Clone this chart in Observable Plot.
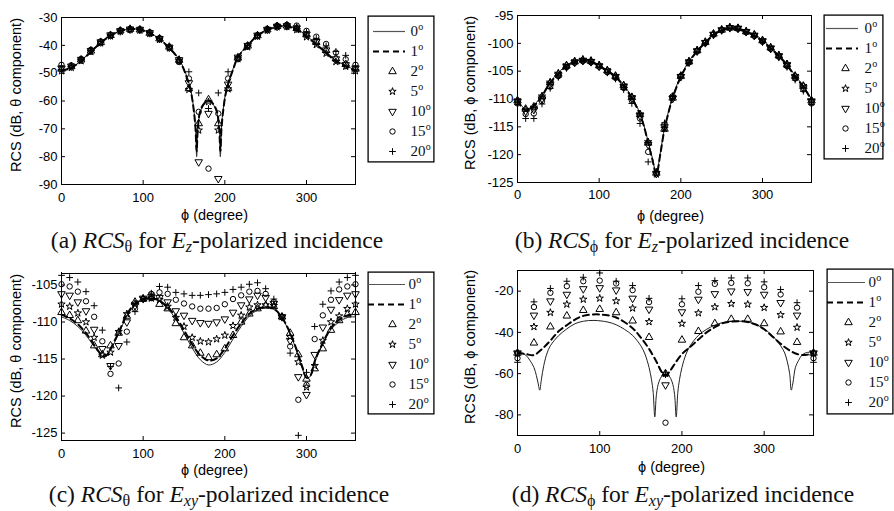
<!DOCTYPE html>
<html><head><meta charset="utf-8">
<script src="https://cdn.jsdelivr.net/npm/d3@7"></script>
<script src="https://cdn.jsdelivr.net/npm/@observablehq/plot@0.6"></script>
<style>
body{margin:0;background:#fff;}
#root{position:relative;width:894px;height:511px;overflow:hidden;background:#fff;}
.cap{position:absolute;font-family:"Liberation Serif","Times New Roman",serif;font-size:23.5px;line-height:24px;white-space:nowrap;color:#111;transform:translateX(-50%);}
.cap sub{font-size:16px;vertical-align:-4px;line-height:0;color:#111;}
</style></head><body><div id="root"></div>
<script>
// ---------- shared ----------
const xTicks = [0, 100, 200, 300];
const legendNums = ["0", "1", "2", "5", "10", "15", "20"];
const xLabel = "ϕ (degree)";

// ---------- panel (a) ----------
const aLinePhi = [0,12,24,36,48,60,72,84,96,108,120,132,144,150,155,159,162,164,165.5,167,170,175,180,185,190,193,194.5,196,198,201,205,210,216,228,240,252,264,276,288,300,312,324,336,348,360];
const a0 = [-48.9,-48.0,-45.5,-42.2,-39.0,-36.4,-34.8,-34.1,-34.3,-35.5,-37.7,-40.7,-45.0,-48.5,-52.5,-57,-63,-69,-80,-70,-64,-61,-60,-61,-64,-70,-80,-69,-63,-57,-52.5,-48.5,-44.1,-39.9,-36.3,-34.3,-33.2,-33.0,-34.1,-36.6,-39.4,-42.4,-45.4,-47.3,-48.9];
const a1 = [-49.1,-48.1,-45.6,-42.3,-39.1,-36.5,-34.9,-34.2,-34.4,-35.6,-37.8,-40.9,-45.2,-48.8,-53,-57.5,-63.5,-69.5,-78,-69.5,-63.5,-60.8,-59.8,-60.8,-63.5,-69.5,-78,-69.5,-63.5,-57.5,-53,-48.8,-44.3,-40.1,-36.5,-34.5,-33.4,-33.2,-34.3,-36.8,-39.7,-42.7,-45.7,-47.5,-49.1];
const aMarkPhi = [0,12,24,36,48,60,72,84,96,108,120,132,144,156,168,180,192,204,216,228,240,252,264,276,288,300,312,324,336,348,360];
const a2 = [-48.5,-47.6,-45.2,-42.0,-38.9,-36.4,-34.8,-34.2,-34.4,-35.6,-37.6,-40.6,-45.3,-55.5,-68.1,-59.5,-68.1,-55.5,-44.5,-40.2,-36.5,-34.4,-33.2,-33.0,-33.9,-36.2,-38.9,-41.8,-44.7,-46.8,-48.5];
const a5 = [-49.2,-48.0,-45.6,-42.3,-39.2,-36.7,-35.0,-34.4,-34.6,-35.8,-37.9,-41.0,-45.6,-55.9,-70.5,-60.3,-70.5,-55.7,-44.9,-40.6,-36.8,-34.6,-33.4,-33.3,-34.4,-37.0,-39.8,-42.9,-45.9,-47.6,-49.2];
const a10 = [-48.2,-47.5,-45.1,-41.9,-38.8,-36.3,-34.8,-34.2,-34.3,-35.5,-37.6,-40.7,-45.2,-53.5,-81.9,-64.5,-87.9,-54.0,-44.3,-40.1,-36.4,-34.3,-33.2,-33.0,-33.8,-36.0,-38.7,-41.7,-44.9,-47.0,-48.2];
const a15 = [-47.0,-47.2,-44.9,-41.6,-38.6,-36.2,-34.6,-34.1,-34.2,-35.3,-37.4,-40.6,-46.0,-51.9,-63.9,-84.3,-64.5,-51.9,-45.0,-40.0,-36.3,-34.1,-32.9,-32.6,-32.9,-34.8,-36.9,-39.5,-42.6,-45.0,-47.0];
const a20 = [-47.5,-47.3,-45.0,-41.8,-38.7,-36.3,-34.7,-34.1,-34.3,-35.4,-37.5,-40.5,-45.0,-49.5,-57.1,-62.7,-57.1,-49.5,-44.0,-40.0,-36.2,-34.0,-32.8,-32.7,-33.3,-35.2,-37.5,-40.2,-42.2,-43.6,-47.5];
const aYTicks = [-30,-40,-50,-60,-70,-80,-90];

// ---------- panel (b) ----------
const bLinePhi = [0,5,10,15,20,25,30,40,50,60,70,80,90,100,110,120,130,140,150,155,160,165,170,175,180,185,190,200,210,220,230,240,250,260,270,280,290,300,310,320,330,340,350,360];
const b0 = [-110,-111.2,-111.8,-111.7,-111.1,-110.3,-109.3,-106.9,-105.3,-103.9,-103.2,-102.9,-103.1,-103.9,-104.8,-105.8,-107.5,-109.6,-112.6,-114.8,-117.7,-120.5,-123.3,-119.5,-115.2,-112.2,-109.6,-105.8,-103.2,-101.2,-99.7,-98.3,-97.5,-97.1,-97.2,-97.8,-98.4,-99.4,-100.7,-102.1,-103.7,-105.8,-107.6,-110];
const b1 = [-110.2,-111.4,-112.0,-111.9,-111.3,-110.5,-109.5,-107.1,-105.5,-104.1,-103.4,-103.1,-103.3,-104.1,-105.0,-106.0,-107.7,-109.8,-112.8,-115.0,-117.9,-120.8,-123.5,-119.8,-115.4,-112.4,-109.8,-106.0,-103.4,-101.4,-99.9,-98.5,-97.7,-97.3,-97.4,-98.0,-98.6,-99.6,-100.9,-102.3,-103.9,-106.0,-107.8,-110.2];
const bMarkPhi = [0,10,20,30,40,50,60,70,80,90,100,110,120,130,140,150,160,170,180,190,200,210,220,230,240,250,260,270,280,290,300,310,320,330,340,350,360];
const b2 = [-110.3,-111.8,-111.4,-109.6,-107.1,-105.5,-104.0,-103.3,-103.0,-103.2,-104.0,-104.9,-105.9,-107.6,-109.7,-112.8,-117.9,-123.3,-115.4,-109.8,-105.9,-103.3,-101.3,-99.8,-98.3,-97.6,-97.2,-97.3,-97.9,-98.5,-99.5,-100.8,-102.2,-103.8,-105.9,-107.7,-110.3];
const b5 = [-110.2,-111.9,-111.5,-109.5,-107.0,-105.4,-103.9,-103.2,-102.9,-103.1,-103.9,-104.8,-105.8,-107.5,-109.6,-112.7,-117.7,-123.5,-115.3,-109.7,-105.8,-103.2,-101.2,-99.7,-98.3,-97.5,-97.1,-97.2,-97.8,-98.4,-99.4,-100.7,-102.1,-103.7,-105.8,-107.6,-110.2];
const b10 = [-110.5,-112.2,-111.9,-110.0,-107.4,-105.7,-104.2,-103.4,-103.1,-103.3,-104.1,-105.0,-106.0,-107.8,-109.9,-113.0,-118.2,-123.4,-115.0,-109.9,-106.0,-103.4,-101.4,-99.9,-98.4,-97.6,-97.2,-97.3,-97.9,-98.6,-99.6,-100.9,-102.3,-103.9,-106.1,-108.0,-110.5];
const b15 = [-110.8,-112.7,-112.6,-110.4,-107.8,-105.9,-104.3,-103.5,-103.2,-103.4,-104.2,-105.2,-106.2,-108.0,-110.3,-113.5,-119.5,-123.3,-114.6,-109.5,-105.9,-103.4,-101.4,-99.9,-98.4,-97.6,-97.2,-97.4,-98.0,-98.7,-99.7,-101.0,-102.4,-104.1,-106.3,-108.3,-110.8];
const b20 = [-111.0,-113.5,-113.5,-110.9,-108.1,-106.1,-104.5,-103.6,-103.3,-103.5,-104.3,-105.3,-106.4,-108.3,-110.8,-114.4,-121.3,-123.0,-114.3,-109.4,-105.9,-103.4,-101.5,-100.0,-98.5,-97.7,-97.3,-97.5,-98.1,-98.8,-99.8,-101.1,-102.6,-104.3,-106.6,-108.6,-111.0];
const bYTicks = [-95,-100,-105,-110,-115,-120,-125];

// ---------- panel (c) ----------
const cLinePhi = [0,10,20,30,40,45,50,55,60,70,80,90,100,110,120,130,140,150,160,170,180,190,200,210,220,230,240,250,260,270,280,290,295,300,305,310,320,330,340,350,360];
const c0 = [-109.3,-109.8,-110.6,-111.8,-113.3,-114.0,-114.6,-114.6,-113.8,-111.6,-109.2,-107.7,-107.0,-106.8,-107.2,-108.2,-109.6,-111.5,-113.5,-115.1,-115.8,-115.4,-114.1,-112.3,-110.6,-109.2,-108.4,-108.1,-108.3,-109.5,-111.6,-114.6,-116.3,-117.6,-117.3,-115.5,-113.0,-111.0,-110.0,-109.4,-109.3];
const c1 = [-109.0,-109.5,-110.3,-111.5,-113.1,-113.9,-114.5,-114.5,-113.6,-111.4,-109.0,-107.5,-106.9,-106.8,-107.1,-108.0,-109.3,-111.1,-113.0,-114.5,-115.2,-114.9,-113.6,-111.8,-110.2,-108.9,-108.2,-108.0,-108.2,-109.4,-111.5,-114.4,-116.1,-117.5,-117.2,-115.3,-112.8,-110.8,-109.7,-109.1,-109.0];
const cMarkPhi = [0,10,20,30,40,50,60,70,80,90,100,110,120,130,140,150,160,170,180,190,200,210,220,230,240,250,260,270,280,290,300,310,320,330,340,350,360];
const c2 = [-108.7,-109.1,-109.8,-111.2,-113.2,-114.4,-113.2,-111.5,-109.2,-107.3,-106.9,-106.7,-107.6,-108.2,-110.2,-112.1,-113.2,-114.2,-114.8,-114.4,-113.6,-111.8,-110.0,-108.9,-108.2,-107.8,-107.9,-109.3,-111.5,-114.4,-117.7,-116.3,-113.6,-111.1,-109.8,-109.0,-108.7];
const c5 = [-107.6,-107.9,-108.8,-110.0,-112.1,-114.5,-114.1,-111.3,-108.9,-107.5,-106.8,-106.8,-107.0,-107.9,-109.4,-110.6,-112.1,-112.6,-112.7,-112.3,-111.8,-110.5,-109.1,-108.0,-107.7,-107.7,-107.8,-109.3,-112.0,-115.4,-118.8,-115.9,-112.5,-110.0,-109.2,-108.2,-107.6];
const c10 = [-106.2,-106.4,-107.3,-108.5,-111.0,-113.6,-115.9,-113.2,-110.0,-107.8,-106.8,-106.6,-106.7,-107.3,-108.5,-109.1,-109.8,-110.1,-110.2,-110.0,-109.6,-108.7,-107.7,-106.9,-106.4,-106.7,-107.5,-109.3,-112.5,-117.4,-119.8,-114.4,-110.7,-108.3,-107.0,-106.4,-106.2];
const c15 = [-104.9,-105.2,-105.9,-107.2,-109.3,-112.6,-117.0,-115.6,-111.3,-108.2,-106.9,-106.2,-106.0,-106.2,-107.0,-107.5,-107.9,-108.2,-108.2,-108.1,-107.6,-106.9,-106.4,-105.9,-105.8,-106.2,-107.3,-109.3,-113.3,-120.5,-118.5,-112.3,-109.1,-107.0,-105.6,-105.2,-104.9];
const c20 = [-103.7,-104.0,-104.6,-105.9,-107.8,-111.1,-116.0,-118.9,-112.7,-108.6,-107.0,-106.1,-105.2,-105.3,-106.0,-106.2,-106.4,-106.4,-106.3,-106.2,-106.0,-105.6,-105.3,-104.9,-104.7,-105.5,-106.9,-109.3,-114.2,-125.3,-116.8,-110.6,-107.6,-105.8,-104.6,-104.0,-103.7];
const cYTicks = [-105,-110,-115,-120,-125];

// ---------- panel (d) ----------
const d0Phi = [0,5,10,15,20,23,25,27,29,32,36,40,50,60,70,80,93,110,120,130,140,150,155,160,163,165,167,169,172,176,180,184,188,191,193,195,197,200,205,210,220,230,240,250,265,280,290,300,310,320,325,328,331,333,335,338,342,346,350,355,360];
const d0 = [-49.5,-50,-51,-53.5,-57,-61,-64.5,-68,-63,-56,-50,-46.5,-41.6,-38.3,-35.8,-34.6,-34.2,-35,-36.3,-38.5,-41.5,-46.5,-50.5,-57,-63,-69,-81,-70,-64,-61,-60,-61,-64,-70,-81,-69,-63,-57,-50.5,-46.5,-41.5,-38.5,-36.5,-35.2,-34.5,-35,-36.2,-38.3,-41.6,-46.5,-50,-54,-60,-68,-64.5,-57,-53.5,-51,-50,-49.6,-49.5];
const d1Phi = [0,10,20,30,40,50,60,70,80,100,120,140,150,160,170,175,180,185,190,200,210,220,230,240,250,260,270,280,290,300,310,320,330,340,350,360];
const d1 = [-50,-50.5,-51,-48,-44,-39.5,-36.5,-33.8,-32,-31.3,-32.8,-38,-42.5,-48,-55,-59,-61,-59,-56,-50.5,-47,-43.5,-40,-37.5,-35.5,-34.8,-34.6,-35,-36.2,-38.5,-42,-45.5,-48.5,-50.5,-51,-50];
const dMarkPhi = [0,20,40,60,80,100,120,140,160,180,200,220,240,260,280,300,320,340,360];
const d2 = [-50,-45.1,-37.3,-32.0,-29.3,-28.8,-30.4,-34.4,-42.4,-60,-43.7,-39.5,-35.7,-33.6,-33.6,-35.7,-39.7,-44.8,-50];
const d5 = [-50,-37.3,-30.4,-26.4,-24.0,-23.5,-24.8,-28.3,-34.9,-60,-35.7,-30.6,-27.7,-26.1,-26.4,-28.0,-31.5,-37.6,-50];
const d10 = [-50,-31.7,-24.8,-21.6,-18.9,-18.4,-19.5,-23.5,-28.8,-65.5,-30.1,-24.0,-21.3,-20.0,-20.3,-21.6,-25.6,-31.7,-50];
const d15 = [-52.5,-27.7,-20.8,-17.6,-15.2,-14.9,-16.3,-19.5,-25.3,-83.8,-26.4,-20.3,-16.5,-16.0,-16.2,-18.1,-21.6,-28.0,-52.5];
const d20 = [-54.5,-25.2,-18.7,-15.2,-13.3,-11.2,-15.2,-17.3,-23.5,-60.5,-23.7,-17.3,-14.9,-13.6,-13.6,-15.5,-19.2,-25.6,-54.5];
const dYTicks = [-20,-40,-60,-80];

// ---------- rendering ----------
const triDown = {draw(ctx, size) {
  const y = -Math.sqrt(size / (Math.sqrt(3) * 3));
  ctx.moveTo(0, -y * 2);
  ctx.lineTo(-Math.sqrt(3) * y, y);
  ctx.lineTo(Math.sqrt(3) * y, y);
  ctx.closePath();
}};
const SYM = [
  {symbol: "triangle", r: 2.8},
  {symbol: "star", r: 2.3},
  {symbol: triDown, r: 2.8},
  {symbol: "circle", r: 2.7},
  {symbol: "plus", r: 2.3}
];
const INK = "#000";
const SERIF = "'Liberation Serif', 'Times New Roman', serif";
const root = document.getElementById("root");
const rows = (phis, vals) => phis.map((p, i) => ({phi: p, v: vals[i]}));
const fmt = d => String(d);

function drawPanel(c) {
  const ml = 60, mt = 15, mr = 10, mb = 45;
  const marks = [
    Plot.line(rows(c.l0phi, c.l0), {x: "phi", y: "v", curve: "catmull-rom", stroke: "#222", strokeWidth: 1}),
    Plot.line(rows(c.l1phi, c.l1), {x: "phi", y: "v", curve: "catmull-rom", stroke: "#000", strokeWidth: 2, strokeDasharray: "6,4"}),
    ...SYM.map((s, k) => Plot.dot(rows(c.mphi, c.m[k]), {x: "phi", y: "v", symbol: s.symbol, r: s.r, stroke: INK, strokeWidth: 1, fill: "none"})),
    Plot.tickX(xTicks, {x: d => d, insetTop: c.fh - 4, stroke: "#000"}),
    Plot.tickX(xTicks, {x: d => d, insetBottom: c.fh - 4, stroke: "#000"}),
    Plot.tickY(c.yticks, {y: d => d, insetRight: c.fw - 4, stroke: "#000"}),
    Plot.tickY(c.yticks, {y: d => d, insetLeft: c.fw - 4, stroke: "#000"}),
    Plot.axisX({ticks: xTicks, tickSize: 0, tickPadding: c.xpad, tickFormat: fmt, label: null}),
    Plot.axisY({ticks: c.yticks, tickSize: 0, tickPadding: 4, tickFormat: fmt, label: null}),
    Plot.text([c.ylabel], {frameAnchor: "left", dx: c.ylabDx, dy: -6, rotate: -90, textAnchor: "middle", lineAnchor: "middle", text: d => d, fontSize: 14.5}),
    Plot.text([xLabel], {frameAnchor: "bottom", dy: c.xlabDy, dx: 6, textAnchor: "middle", lineAnchor: "middle", text: d => d, fontSize: 14.5}),
    Plot.frame({stroke: "#000", strokeWidth: 1})
  ];
  const svg = Plot.plot({
    width: ml + c.fw + mr, height: mt + c.fh + mb,
    marginLeft: ml, marginTop: mt, marginRight: mr, marginBottom: mb,
    x: {domain: [0, 360]}, y: {domain: c.ydomain},
    style: {fontFamily: "'Liberation Sans', Arial, sans-serif", fontSize: "13px", color: "#000", background: "transparent", overflow: "visible"},
    marks
  });
  svg.style.position = "absolute";
  svg.style.left = (c.fx - ml) + "px";
  svg.style.top = (c.fy - mt) + "px";
  root.appendChild(svg);
}

function drawLegend(g) {
  const marks = [
    Plot.frame({stroke: "#000", strokeWidth: 1.3, inset: 0.6}),
    Plot.ruleY([legendNums[0]], {y: d => d, insetLeft: g.li, insetRight: g.w - g.lr, stroke: "#555", strokeWidth: 1.2}),
    Plot.ruleY([legendNums[1]], {y: d => d, insetLeft: g.li, insetRight: g.w - g.lr, stroke: "#000", strokeWidth: 2, strokeDasharray: "6,4"}),
    ...SYM.map((s, k) => Plot.dot([legendNums[k + 2]], {y: d => d, frameAnchor: "left", dx: g.md, symbol: s.symbol, r: s.r, stroke: INK, strokeWidth: 1, fill: "none"})),
    Plot.text(legendNums, {y: d => d, frameAnchor: "left", dx: g.td, text: d => d, textAnchor: "start", lineAnchor: "middle", fontFamily: SERIF, fontSize: 15, fill: "#111"}),
    ...legendNums.map(n => Plot.text([n], {y: d => d, frameAnchor: "left", dx: g.td + 7.5 * n.length + 0.3, dy: -5, text: () => "o", textAnchor: "start", lineAnchor: "middle", fontFamily: SERIF, fontSize: 10, fill: "#111"}))
  ];
  const svg = Plot.plot({
    width: g.w, height: g.h, margin: 0,
    y: {type: "point", domain: legendNums, padding: 0, insetTop: g.rt, insetBottom: g.rb, axis: null},
    style: {background: "#fff", overflow: "visible"},
    marks
  });
  svg.style.position = "absolute";
  svg.style.left = g.x + "px";
  svg.style.top = g.y + "px";
  root.appendChild(svg);
}

function caption(html, cx, top) {
  const d = document.createElement("div");
  d.className = "cap";
  d.innerHTML = html;
  d.style.left = cx + "px";
  d.style.top = top + "px";
  root.appendChild(d);
}

drawPanel({fx: 61, fy: 17, fw: 294, fh: 167, ydomain: [-90, -30], yticks: aYTicks, ylabel: "RCS (dB, θ component)", ylabDx: -45, xlabDy: 31, xpad: 8,
  l0phi: aLinePhi, l0: a0, l1phi: aLinePhi, l1: a1, mphi: aMarkPhi, m: [a2, a5, a10, a15, a20]});
drawPanel({fx: 517, fy: 15, fw: 294, fh: 167, ydomain: [-125, -95], yticks: bYTicks, ylabel: "RCS (dB, ϕ component)", ylabDx: -47, xlabDy: 34, xpad: 7,
  l0phi: bLinePhi, l0: b0, l1phi: bLinePhi, l1: b1, mphi: bMarkPhi, m: [b2, b5, b10, b15, b20]});
drawPanel({fx: 61, fy: 273, fw: 294, fh: 167, ydomain: [-126, -103.45], yticks: cYTicks, ylabel: "RCS (dB, θ component)", ylabDx: -45, xlabDy: 30, xpad: 8,
  l0phi: cLinePhi, l0: c0, l1phi: cLinePhi, l1: c1, mphi: cMarkPhi, m: [c2, c5, c10, c15, c20]});
drawPanel({fx: 517, fy: 270, fw: 296, fh: 165, ydomain: [-90, -10], yticks: dYTicks, ylabel: "RCS (dB, ϕ component)", ylabDx: -47, xlabDy: 32, xpad: 8,
  l0phi: d0Phi, l0: d0, l1phi: d1Phi, l1: d1, mphi: dMarkPhi, m: [d2, d5, d10, d15, d20]});

drawLegend({x: 367, y: 15, w: 67, h: 147, rt: 15, rb: 10, li: 6, lr: 38, md: 25, td: 43});
drawLegend({x: 823, y: 14, w: 60, h: 145, rt: 14, rb: 11, li: 3, lr: 35, md: 22, td: 41});
drawLegend({x: 367, y: 271, w: 67, h: 143, rt: 11, rb: 9, li: 1, lr: 38, md: 25, td: 41});
drawLegend({x: 826, y: 268, w: 67, h: 146, rt: 12, rb: 11, li: 1, lr: 39, md: 22, td: 42});

caption('(a) <i>RCS</i><sub>θ</sub> for <i>E<sub>z</sub></i>-polarized incidence', 217, 228);
caption('(b) <i>RCS</i><sub>ϕ</sub> for <i>E<sub>z</sub></i>-polarized incidence', 682, 228);
caption('(c) <i>RCS</i><sub>θ</sub> for <i>E<sub>xy</sub></i>-polarized incidence', 219, 482);
caption('(d) <i>RCS</i><sub>ϕ</sub> for <i>E<sub>xy</sub></i>-polarized incidence', 683, 482);
</script></body></html>
